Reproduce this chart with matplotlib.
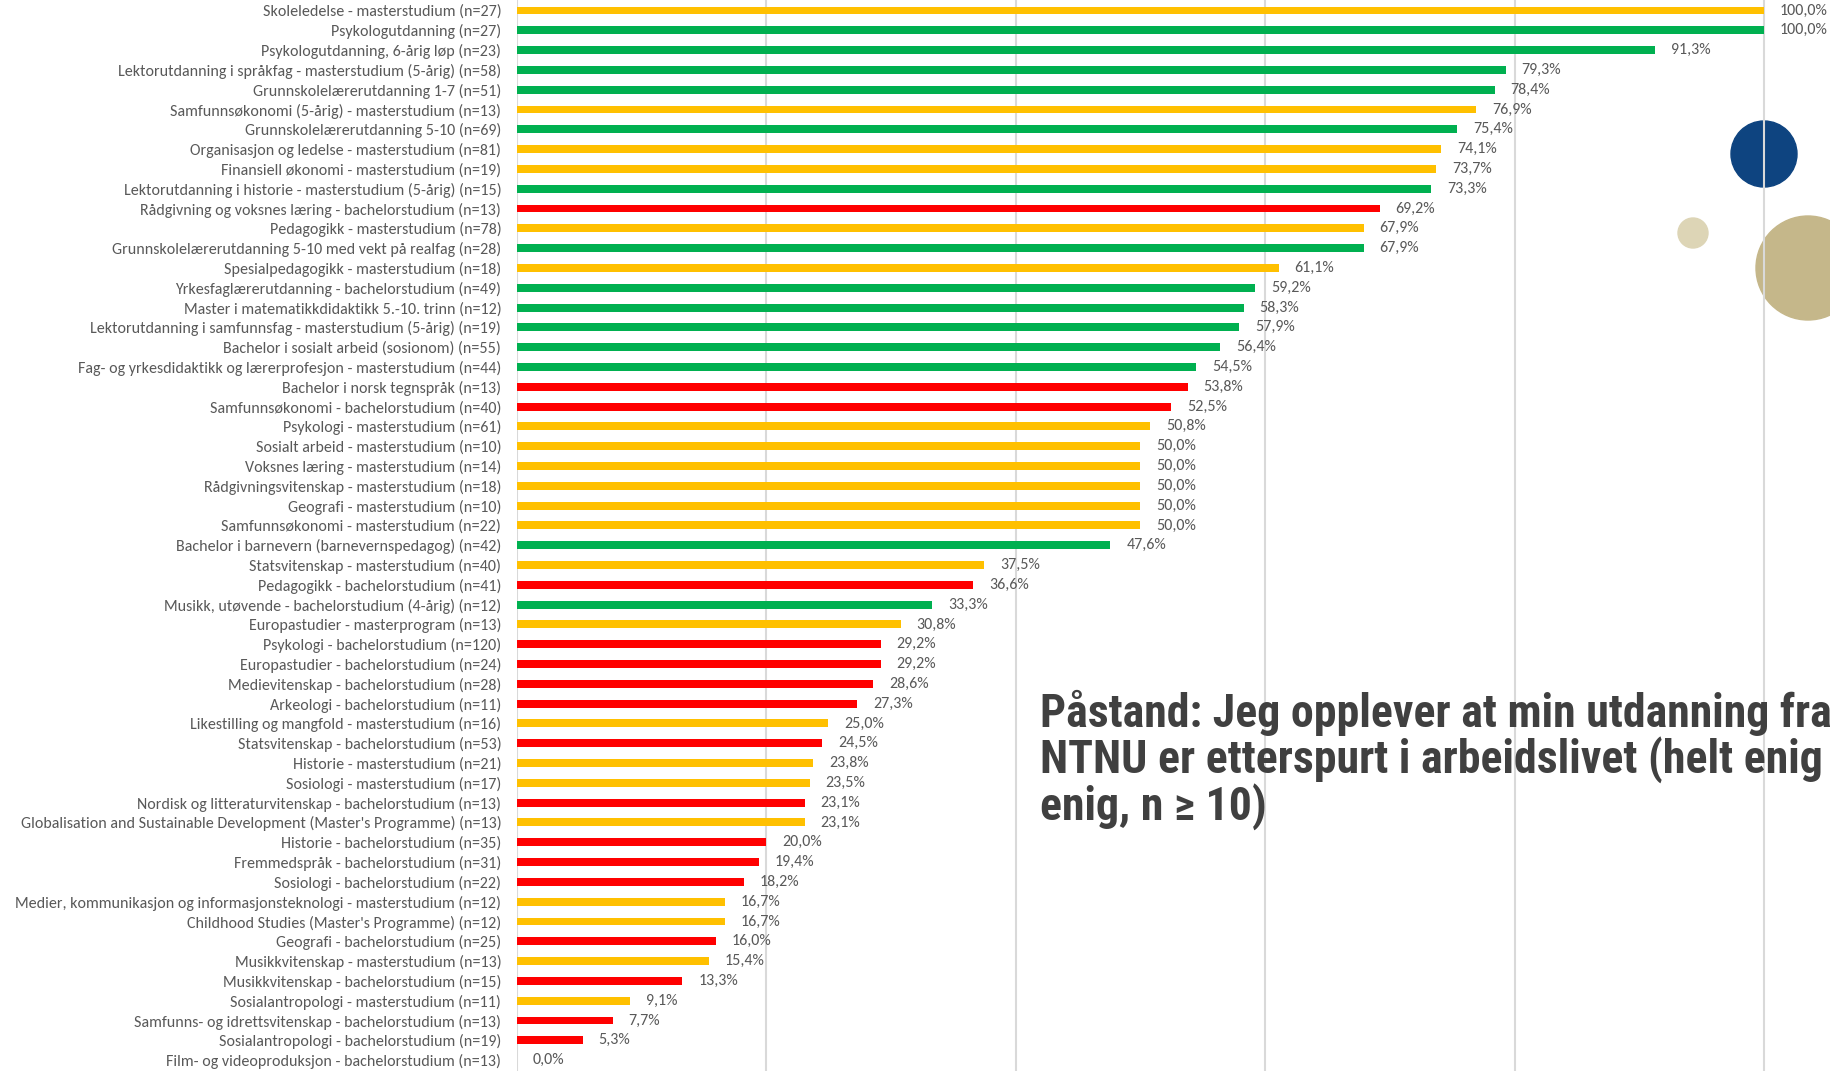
import matplotlib
matplotlib.use("Agg")
import matplotlib.pyplot as plt
from matplotlib.patches import Ellipse

labels = [
    "Skoleledelse - masterstudium (n=27)",
    "Psykologutdanning (n=27)",
    "Psykologutdanning, 6-årig løp (n=23)",
    "Lektorutdanning i språkfag - masterstudium (5-årig) (n=58)",
    "Grunnskolelærerutdanning 1-7 (n=51)",
    "Samfunnsøkonomi (5-årig) - masterstudium (n=13)",
    "Grunnskolelærerutdanning 5-10 (n=69)",
    "Organisasjon og ledelse - masterstudium (n=81)",
    "Finansiell økonomi - masterstudium (n=19)",
    "Lektorutdanning i historie - masterstudium (5-årig) (n=15)",
    "Rådgivning og voksnes læring - bachelorstudium (n=13)",
    "Pedagogikk - masterstudium (n=78)",
    "Grunnskolelærerutdanning 5-10 med vekt på realfag (n=28)",
    "Spesialpedagogikk - masterstudium (n=18)",
    "Yrkesfaglærerutdanning - bachelorstudium (n=49)",
    "Master i matematikkdidaktikk 5.-10. trinn (n=12)",
    "Lektorutdanning i samfunnsfag - masterstudium (5-årig) (n=19)",
    "Bachelor i sosialt arbeid (sosionom) (n=55)",
    "Fag- og yrkesdidaktikk og lærerprofesjon - masterstudium (n=44)",
    "Bachelor i norsk tegnspråk (n=13)",
    "Samfunnsøkonomi - bachelorstudium (n=40)",
    "Psykologi - masterstudium (n=61)",
    "Sosialt arbeid - masterstudium (n=10)",
    "Voksnes læring - masterstudium (n=14)",
    "Rådgivningsvitenskap - masterstudium (n=18)",
    "Geografi - masterstudium (n=10)",
    "Samfunnsøkonomi - masterstudium (n=22)",
    "Bachelor i barnevern (barnevernspedagog) (n=42)",
    "Statsvitenskap - masterstudium (n=40)",
    "Pedagogikk - bachelorstudium (n=41)",
    "Musikk, utøvende - bachelorstudium (4-årig) (n=12)",
    "Europastudier - masterprogram (n=13)",
    "Psykologi - bachelorstudium (n=120)",
    "Europastudier - bachelorstudium (n=24)",
    "Medievitenskap - bachelorstudium (n=28)",
    "Arkeologi - bachelorstudium (n=11)",
    "Likestilling og mangfold - masterstudium (n=16)",
    "Statsvitenskap - bachelorstudium (n=53)",
    "Historie - masterstudium (n=21)",
    "Sosiologi - masterstudium (n=17)",
    "Nordisk og litteraturvitenskap - bachelorstudium (n=13)",
    "Globalisation and Sustainable Development (Master's Programme) (n=13)",
    "Historie - bachelorstudium (n=35)",
    "Fremmedspråk - bachelorstudium (n=31)",
    "Sosiologi - bachelorstudium (n=22)",
    "Medier, kommunikasjon og informasjonsteknologi - masterstudium (n=12)",
    "Childhood Studies (Master's Programme) (n=12)",
    "Geografi - bachelorstudium (n=25)",
    "Musikkvitenskap - masterstudium (n=13)",
    "Musikkvitenskap - bachelorstudium (n=15)",
    "Sosialantropologi - masterstudium (n=11)",
    "Samfunns- og idrettsvitenskap - bachelorstudium (n=13)",
    "Sosialantropologi - bachelorstudium (n=19)",
    "Film- og videoproduksjon - bachelorstudium (n=13)",
]

values = [100.0, 100.0, 91.3, 79.3, 78.4, 76.9, 75.4, 74.1, 73.7, 73.3,
          69.2, 67.9, 67.9, 61.1, 59.2, 58.3, 57.9, 56.4, 54.5, 53.8,
          52.5, 50.8, 50.0, 50.0, 50.0, 50.0, 50.0, 47.6, 37.5, 36.6,
          33.3, 30.8, 29.2, 29.2, 28.6, 27.3, 25.0, 24.5, 23.8, 23.5,
          23.1, 23.1, 20.0, 19.4, 18.2, 16.7, 16.7, 16.0, 15.4, 13.3,
          9.1, 7.7, 5.3, 0.0]

# G = green, Y = yellow, R = red
groups = list("YGGGGYGYYGRYGYGGGGGRRYYYYYYGYRGYRRRRYRYYRYRRRYYRYRYRRR")

palette = {"G": "#00B050", "Y": "#FFC000", "R": "#FF0000"}
txt_color = "#595959"
lab_font = ["Carlito", "Lato", "DejaVu Sans"]

W, H = 1830, 1071
fig = plt.figure(figsize=(W / 100, H / 100), dpi=100)

ax = fig.add_axes([516.5 / W, 0, (W - 516.5) / W, 1])
ax.patch.set_visible(False)

y = list(range(len(labels)))
fracs = [v / 100 for v in values]
ax.barh(y, fracs, height=0.4, color=[palette[g] for g in groups], zorder=2)

for yi, f, v in zip(y, fracs, values):
    ax.annotate(f"{v:.1f}".replace(".", ",") + "%", (f, yi),
                xytext=(11.5, 0), textcoords="offset points",
                va="center", ha="left", fontsize=11.5, color=txt_color,
                family=lab_font, annotation_clip=False)

ax.set_xlim(0, (W - 516.5) / 1247.5)
ax.set_ylim(53.55, -0.53)
ax.set_xticks([0, 0.2, 0.4, 0.6, 0.8, 1.0])
ax.set_xticklabels([])
ax.grid(axis="x", color="#D9D9D9", lw=1.5, zorder=0)
ax.set_axisbelow(True)
ax.set_yticks(y)
ax.set_yticklabels(labels, fontsize=11.5, color=txt_color, family=lab_font)
ax.tick_params(length=0, pad=11)
for s in ax.spines.values():
    s.set_visible(False)

# decorative circles
for cx, cy, r, c in [(1764, 154, 33, "#0E4480"),
                     (1693, 233, 15, "#DDD5B6"),
                     (1808, 268, 52, "#C5B78A")]:
    fig.patches.append(Ellipse((cx / W, 1 - cy / H), 2 * r / W, 2 * r / H,
                               transform=fig.transFigure, color=c, zorder=-1))

fig.text(1040 / W, 1 - 690 / H,
         "Påstand: Jeg opplever at min utdanning fra\n"
         "NTNU er etterspurt i arbeidslivet (helt enig / \n"
         "enig, n ≥ 10)",
         ha="left", va="top", fontsize=33, fontweight="bold",
         color="#404040", linespacing=1.0,
         family=["Liberation Sans Narrow", "Roboto Condensed",
                 "Asap Condensed", "DejaVu Sans"])

fig.savefig("out.png", dpi=100)
